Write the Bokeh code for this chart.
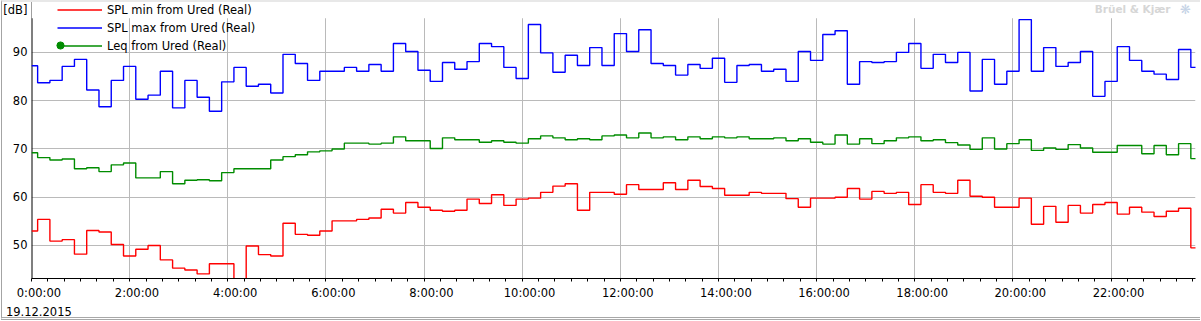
import numpy as np
from bokeh.plotting import figure
from bokeh.models import (FixedTicker, Range1d, Legend, LegendItem, Label, ColumnDataSource,
                          BoxAnnotation, Span, InlineStyleSheet)
from bokeh.core.properties import value
from bokeh.embed import file_html
from bokeh.resources import INLINE

# ---------------- data (15-minute values, 19.12.2015) ----------------
interval_h = 0.25

spl_min = [53.0, 55.4, 50.9, 51.2, 48.2, 53.1, 52.8, 50.2, 47.8, 49.2, 50.0, 47.0,
           45.3, 44.9, 44.1, 46.2, 46.2, 41.5, 49.9, 48.1, 47.8, 54.6, 52.3, 52.1,
           53.0, 55.1, 55.1, 55.4, 55.7, 57.5, 56.7, 58.9, 57.9, 57.3, 57.1, 57.3,
           59.6, 58.7, 60.5, 58.3, 59.6, 59.8, 61.0, 62.3, 62.8, 57.3, 61.0, 61.0,
           60.6, 62.6, 61.6, 61.6, 63.0, 61.6, 63.5, 62.2, 61.8, 60.4, 60.4, 61.0,
           60.8, 60.8, 59.7, 57.9, 59.8, 59.8, 60.0, 61.8, 59.6, 61.2, 60.8, 61.0,
           58.5, 62.6, 61.0, 60.8, 63.5, 60.2, 60.0, 57.9, 57.9, 59.8, 54.4, 58.1,
           54.8, 58.3, 56.7, 58.5, 58.9, 56.5, 57.9, 56.9, 56.0, 57.1, 57.7, 49.5]

spl_max = [87.25, 83.7, 84.2, 87.1, 88.55, 82.2, 78.75, 84.2, 87.1, 80.3, 81.15, 86.1,
           78.5, 84.2, 80.7, 77.8, 83.9, 86.9, 83.0, 83.4, 81.6, 89.6, 87.7, 84.2,
           86.1, 86.1, 86.9, 86.1, 87.5, 86.1, 91.85, 90.2, 86.3, 84.0, 87.9, 86.5,
           88.1, 91.85, 91.2, 86.9, 84.6, 95.8, 89.9, 85.9, 89.4, 87.3, 91.0, 87.3,
           93.9, 90.2, 94.7, 87.7, 87.3, 85.3, 87.5, 86.7, 88.8, 83.8, 87.3, 87.5,
           86.1, 86.5, 84.0, 90.2, 88.35, 93.7, 94.5, 83.4, 88.1, 87.9, 88.1, 90.0,
           91.85, 86.7, 89.6, 87.9, 90.0, 82.0, 88.55, 83.4, 86.1, 96.8, 86.1, 91.0,
           87.1, 87.9, 90.2, 80.9, 84.0, 91.2, 88.35, 86.1, 85.5, 84.4, 90.6, 86.9]

leq = [69.2, 68.2, 67.7, 67.9, 65.9, 66.1, 65.3, 66.7, 67.1, 64.0, 64.0, 65.3,
       62.8, 63.5, 63.6, 63.4, 65.1, 65.9, 65.9, 65.9, 67.7, 68.4, 68.8, 69.4,
       69.6, 70.0, 71.2, 71.2, 71.0, 71.2, 72.5, 71.7, 71.7, 70.1, 72.3, 71.9,
       71.9, 71.4, 71.7, 71.4, 71.2, 72.1, 72.7, 72.3, 71.9, 72.1, 71.9, 72.7,
       72.9, 72.3, 73.3, 72.3, 72.5, 71.9, 72.5, 72.1, 72.5, 72.3, 72.5, 72.1,
       72.1, 72.3, 71.7, 72.1, 71.4, 71.0, 72.9, 71.0, 72.1, 71.1, 71.7, 72.3,
       72.5, 71.7, 71.9, 71.3, 70.8, 69.9, 72.3, 70.0, 71.1, 71.9, 69.7, 70.2,
       69.9, 70.9, 70.2, 69.3, 69.3, 70.7, 70.7, 69.0, 70.7, 68.8, 71.1, 68.0]

series_names = ["SPL min from Ured (Real)", "SPL max from Ured (Real)", "Leq from Ured (Real)"]
x_tick_hours = [0, 2, 4, 6, 8, 10, 12, 14, 16, 18, 20, 22]
x_tick_labels = ["0:00:00", "2:00:00", "4:00:00", "6:00:00", "8:00:00", "10:00:00",
                 "12:00:00", "14:00:00", "16:00:00", "18:00:00", "20:00:00", "22:00:00"]
y_ticks = [50, 60, 70, 80, 90]
date_label = "19.12.2015"
unit_label = "[dB]"
brand_label = "Brüel & Kjær"

hours = np.arange(len(leq)) * interval_h

# ---------------- layout / style ----------------
FONT = "DejaVu Sans"
FS = "11.5px"
RED, BLUE, GREEN = "#ff0000", "#0000ff", "#008c00"
X_END = 23.72
Y_BOTTOM, Y_TOP_AXIS, Y_TOP = 43.15, 97.06, 100.76
UNIT_TICK = 98.7            # vertical place of the "[dB]" caption
LABEL_SHIFT_H = 0.15        # tick captions sit a little right of their tick

p = figure(width=1201, height=321, output_backend="svg", toolbar_location=None,
           x_range=Range1d(0, X_END), y_range=Range1d(Y_BOTTOM, Y_TOP),
           min_border_left=28, min_border_right=6, min_border_top=0, min_border_bottom=41)
p.outline_line_color = None
p.background_fill_color = "white"
p.border_fill_color = "white"

# window frame lines (left, top band, bottom double line)
p.stylesheets = [InlineStyleSheet(css="""
:host { position: relative; }
:host::after {
  content: ""; position: absolute; left: 1px; top: 0px; width: 1199px; height: 320px;
  box-sizing: border-box; pointer-events: none;
  border-left: 1px solid #a4a4a4; border-top: 2px solid #e8e8e8;
  border-bottom: 3px double #a8a8a8;
}
""")]

# grids
p.xgrid.ticker = FixedTicker(ticks=x_tick_hours)
p.ygrid.ticker = FixedTicker(ticks=y_ticks)
p.xgrid.grid_line_color = "#bababa"
p.ygrid.grid_line_color = "#bababa"

# left axis line (inside frame so that it can stop at the top of the plotting area)
p.add_layout(Span(location=0, dimension="height", line_color="black", line_width=2,
                  level="underlay"))
# blank strip above the plotting area (header with legend)
p.add_layout(BoxAnnotation(bottom=Y_TOP_AXIS, fill_color="white", fill_alpha=1.0,
                           line_color=None, level="underlay"))

src = ColumnDataSource(dict(t=hours, mn=spl_min, mx=spl_max, leq=leq))
r_min = p.step("t", "mn", source=src, mode="center", line_color=RED, line_width=1.4)
r_max = p.step("t", "mx", source=src, mode="center", line_color=BLUE, line_width=1.4)
r_leq = p.step("t", "leq", source=src, mode="center", line_color=GREEN, line_width=1.4)
r_mark = p.scatter("t", "leq", source=src, marker="circle", size=7,
                   fill_color=GREEN, line_color=GREEN, visible=False)

# x axis
label_pos = [h + LABEL_SHIFT_H for h in x_tick_hours]
xa = p.xaxis[0]
xa.ticker = FixedTicker(ticks=label_pos, minor_ticks=[k / 3 for k in range(0, 72)])
overrides = {pos: lab for pos, lab in zip(label_pos, x_tick_labels)}
overrides[label_pos[0]] = x_tick_labels[0] + "\n" + date_label
xa.major_label_overrides = overrides
xa.axis_line_color = "black"
xa.major_tick_line_color = None
xa.minor_tick_line_color = "black"
xa.major_tick_out = 4
xa.major_tick_in = 0
xa.minor_tick_out = 3
xa.minor_tick_in = 0
xa.major_label_standoff = 3
xa.major_label_text_font = FONT
xa.major_label_text_font_size = FS
xa.major_label_text_color = "black"
xa.major_label_text_line_height = 1.38

# y axis
ya = p.yaxis[0]
ya.ticker = FixedTicker(ticks=y_ticks + [UNIT_TICK])
ya.major_label_overrides = {UNIT_TICK: unit_label}
ya.axis_line_color = None
ya.major_tick_line_color = None
ya.minor_tick_line_color = None
ya.major_tick_out = 3
ya.major_tick_in = 0
ya.major_label_standoff = 1
ya.major_label_text_font = FONT
ya.major_label_text_font_size = FS
ya.major_label_text_color = "black"

# legend
leg = Legend(items=[LegendItem(label=value(series_names[0]), renderers=[r_min]),
                    LegendItem(label=value(series_names[1]), renderers=[r_max]),
                    LegendItem(label=value(series_names[2]), renderers=[r_leq])],
             location=(26, 224), orientation="vertical",
             glyph_width=45, glyph_height=17, label_height=17, label_standoff=5,
             spacing=1, padding=0, margin=0, border_line_color=None,
             background_fill_alpha=0, label_text_font=FONT, label_text_font_size=FS,
             label_text_color="black")
p.add_layout(leg)

leg2 = Legend(items=[LegendItem(label=value(""), renderers=[r_mark])],
              location=(20, 224), glyph_width=18, glyph_height=18, label_height=18,
              label_standoff=0, padding=0, margin=0, border_line_color=None,
              background_fill_alpha=0, inactive_fill_alpha=0, label_text_font_size="1px")
p.add_layout(leg2)

# watermark
p.add_layout(Label(x=1139, y=269.5, x_units="screen", y_units="screen", text=brand_label,
                   text_font=FONT, text_font_size="10.5px", text_font_style="bold",
                   text_baseline="middle", text_align="right", text_color="#d6d6d6"))
p.add_layout(Label(x=1154, y=269.5, x_units="screen", y_units="screen", text="❋",
                   text_font=FONT, text_font_size="13px",
                   text_baseline="middle", text_align="center", text_color="#c5d3e6"))

open("out.html", "w").write(file_html(p, INLINE))
